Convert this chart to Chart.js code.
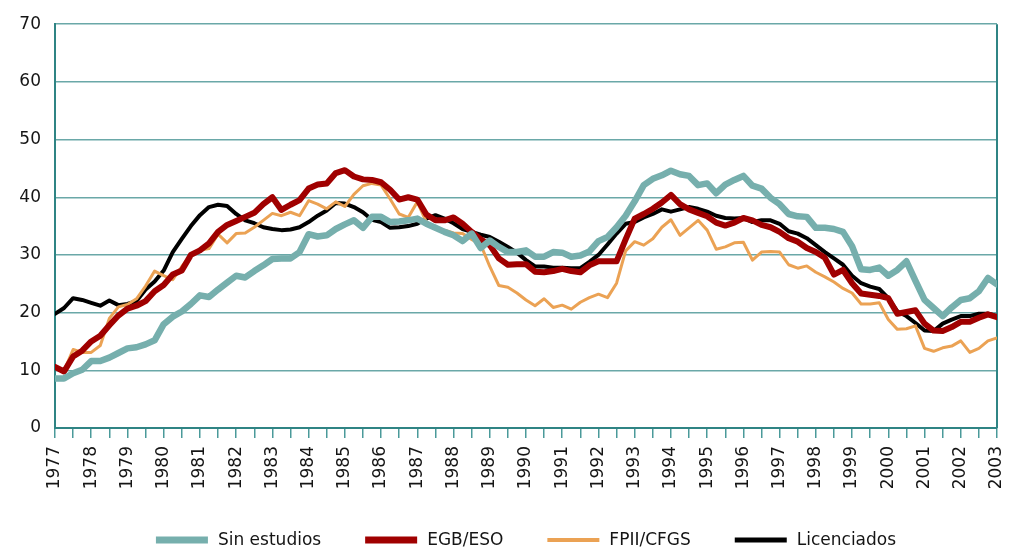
<!DOCTYPE html>
<html>
<head>
<meta charset="utf-8">
<script src="https://cdn.jsdelivr.net/npm/chart.js@4.4.0/dist/chart.umd.min.js"></script>
<style>
  html, body { margin: 0; padding: 0; background: #fff; }
</style>
</head>
<body>
<canvas id="myChart" width="1009" height="550"></canvas>
<script>
// quarterly series, first value = 1977 Q1, last = 2003 Q1
var firstYear = 1977;
var lastYear = 2003;
var seriesNames = ['Sin estudios', 'EGB/ESO', 'FPII/CFGS', 'Licenciados'];

var sinEstudios = [
  8.6, 8.6, 9.5, 10.1,      // 1977
  11.6, 11.6, 12.2, 13.0,   // 1978
  13.8, 14.0, 14.5, 15.2,   // 1979
  18.0, 19.3, 20.2, 21.5,   // 1980
  23.0, 22.7, 24.0, 25.2,   // 1981
  26.4, 26.1, 27.2, 28.2,   // 1982
  29.3, 29.4, 29.4, 30.5,   // 1983
  33.6, 33.2, 33.4, 34.5,   // 1984
  35.3, 36.0, 34.7, 36.6,   // 1985
  36.6, 35.7, 35.8, 36.0,   // 1986
  36.3, 35.4, 34.7, 34.0,   // 1987
  33.4, 32.4, 33.7, 31.2,   // 1988
  32.5, 31.4, 30.5, 30.5,   // 1989
  30.8, 29.7, 29.7, 30.5,   // 1990
  30.4, 29.7, 29.9, 30.6,   // 1991
  32.4, 33.1, 34.8, 36.8,   // 1992
  39.3, 42.1, 43.2, 43.8,   // 1993
  44.6, 44.0, 43.7, 42.1,   // 1994
  42.4, 40.7, 42.2, 43.0,   // 1995
  43.7, 42.0, 41.5, 39.9,   // 1996
  38.8, 37.1, 36.7, 36.6,   // 1997
  34.7, 34.7, 34.5, 34.0,   // 1998
  31.5, 27.5, 27.4, 27.8,   // 1999
  26.4, 27.4, 28.9, 25.5,   // 2000
  22.2, 20.8, 19.4, 20.9,   // 2001
  22.2, 22.5, 23.7, 26.0,   // 2002
  24.9                      // 2003
];

var egbEso = [
  10.6, 9.8, 12.4, 13.4,
  15.0, 16.0, 17.8, 19.5,
  20.7, 21.2, 22.0, 23.7,
  24.8, 26.6, 27.3, 30.0,
  30.8, 32.0, 34.0, 35.2,
  35.9, 36.6, 37.3, 38.8,
  40.0, 37.8, 38.7, 39.5,
  41.5, 42.2, 42.4, 44.2,
  44.7, 43.6, 43.1, 43.0,
  42.6, 41.3, 39.6, 40.0,
  39.6, 37.0, 36.0, 36.0,
  36.5, 35.4, 34.0, 32.7,
  31.7, 29.4, 28.3, 28.4,
  28.4, 27.1, 27.0, 27.2,
  27.6, 27.2, 27.0, 28.2,
  28.9, 28.9, 28.9, 32.7,
  36.3, 37.1, 38.0, 39.1,
  40.4, 38.8, 37.9, 37.3,
  36.7, 35.6, 35.1, 35.6,
  36.4, 36.0, 35.2, 34.8,
  34.0, 32.9, 32.3, 31.2,
  30.5, 29.5, 26.6, 27.4,
  25.1, 23.3, 23.1, 22.9,
  22.5, 19.8, 20.1, 20.4,
  18.1, 16.9, 16.8, 17.5,
  18.4, 18.4, 19.1, 19.7,
  19.2
];

var fpiiCfgs = [
  10.5, 9.9, 13.6, 13.1,
  13.1, 14.3, 19.0, 21.0,
  21.4, 22.4, 24.6, 27.2,
  26.4, 25.7, 28.0, 30.0,
  30.8, 31.1, 33.6, 32.1,
  33.7, 33.8, 34.8, 36.0,
  37.2, 36.8, 37.4, 36.8,
  39.4, 38.8, 38.0, 39.2,
  38.4, 40.5, 42.0, 42.4,
  42.1, 39.7, 37.1, 36.5,
  39.2, 35.7, 34.5, 34.3,
  33.8, 33.7, 32.7, 31.8,
  28.0, 24.7, 24.4, 23.4,
  22.2, 21.2, 22.4, 20.9,
  21.3, 20.6, 21.8, 22.6,
  23.2, 22.6, 25.1, 30.7,
  32.3, 31.7, 32.8, 34.8,
  36.1, 33.4, 34.7, 36.0,
  34.3, 31.0, 31.4, 32.1,
  32.2, 29.1, 30.5, 30.6,
  30.5, 28.3, 27.7, 28.1,
  27.0, 26.2, 25.3, 24.2,
  23.4, 21.5, 21.5, 21.7,
  18.8, 17.1, 17.2, 17.7,
  13.8, 13.3, 13.9, 14.2,
  15.1, 13.1, 13.8, 15.1,
  15.6
];

var licenciados = [
  19.8, 20.8, 22.5, 22.2,
  21.7, 21.2, 22.1, 21.3,
  21.5, 22.0, 24.0, 25.4,
  27.3, 30.5, 32.8, 35.0,
  36.9, 38.3, 38.7, 38.5,
  37.1, 36.0, 35.5, 34.8,
  34.5, 34.3, 34.4, 34.8,
  35.7, 36.8, 37.7, 39.0,
  38.9, 38.3, 37.4, 36.1,
  35.7, 34.7, 34.8, 35.0,
  35.4, 36.3, 36.9, 36.3,
  35.5, 34.5, 34.0, 33.5,
  33.1, 32.3, 31.4, 30.4,
  29.1, 28.0, 28.0, 27.8,
  27.8, 27.7, 27.7, 28.8,
  30.0, 31.8, 33.7, 35.4,
  35.7, 36.5, 37.1, 37.9,
  37.5, 37.9, 38.3, 38.0,
  37.5, 36.8, 36.4, 36.3,
  36.4, 35.7, 36.0, 36.0,
  35.4, 34.1, 33.7, 32.9,
  31.7, 30.5, 29.4, 28.3,
  26.4, 25.1, 24.5, 24.1,
  22.5, 20.2, 19.4, 18.2,
  16.9, 16.8, 18.1, 18.8,
  19.4, 19.4, 19.8, 19.8,
  19.4
];

var yTicks = [0, 10, 20, 30, 40, 50, 60, 70];

function toPoints(values) {
  return values.map(function (v, i) { return { x: firstYear + i / 4, y: v }; });
}

var axisColor = '#2f8484';
var gridColor = '#6aa8a8';
var textColor = '#151515';

Chart.defaults.font.family = "'DejaVu Sans', Verdana, sans-serif";
Chart.defaults.font.size = 17;
Chart.defaults.color = textColor;

// right edge of the plot frame
var frameRight = {
  id: 'frameRight',
  beforeDatasetsDraw: function (chart) {
    var a = chart.chartArea, ctx = chart.ctx;
    ctx.save();
    ctx.strokeStyle = axisColor;
    ctx.lineWidth = 2;
    ctx.beginPath();
    ctx.moveTo(a.right, a.top);
    ctx.lineTo(a.right, a.bottom);
    ctx.stroke();
    ctx.restore();
  }
};

// legend row under the axis labels
var bottomLegend = {
  id: 'bottomLegend',
  afterDraw: function (chart) {
    var ctx = chart.ctx, a = chart.chartArea;
    var sets = chart.data.datasets;
    var sample = 52, gap = 10, spacing = 44;
    ctx.save();
    ctx.font = "17px 'DejaVu Sans', Verdana, sans-serif";
    ctx.textBaseline = 'middle';
    var widths = sets.map(function (d) { return sample + gap + ctx.measureText(d.label).width; });
    var total = widths.reduce(function (s, w) { return s + w; }, 0) + spacing * (sets.length - 1);
    var x = (a.left + a.right) / 2 - total / 2;
    var y = 540;
    sets.forEach(function (d, i) {
      ctx.strokeStyle = d.borderColor;
      ctx.lineWidth = d.legendWidth;
      ctx.lineCap = 'butt';
      ctx.beginPath();
      ctx.moveTo(x, y);
      ctx.lineTo(x + sample, y);
      ctx.stroke();
      ctx.fillStyle = textColor;
      ctx.fillText(d.label, x + sample + gap, y + 1);
      x += widths[i] + spacing;
    });
    ctx.restore();
  }
};

var ctx = document.getElementById('myChart').getContext('2d');
var myChart = new Chart(ctx, {
  type: 'line',
  data: {
    datasets: [
      { label: seriesNames[0], data: toPoints(sinEstudios), borderColor: '#76afad', borderWidth: 6.5, legendWidth: 7 },
      { label: seriesNames[1], data: toPoints(egbEso), borderColor: '#a00000', borderWidth: 6, legendWidth: 7 },
      { label: seriesNames[2], data: toPoints(fpiiCfgs), borderColor: '#eba254', borderWidth: 3, legendWidth: 4 },
      { label: seriesNames[3], data: toPoints(licenciados), borderColor: '#000000', borderWidth: 4, legendWidth: 5 }
    ]
  },
  options: {
    responsive: false,
    animation: false,
    layout: { padding: { top: 20, right: 12, bottom: 60, left: 0 } },
    elements: {
      point: { radius: 0 },
      line: { tension: 0, borderJoinStyle: 'round', borderCapStyle: 'round', fill: false }
    },
    plugins: {
      legend: { display: false },
      tooltip: { enabled: false }
    },
    scales: {
      x: {
        type: 'linear',
        min: firstYear,
        max: lastYear,
        ticks: {
          stepSize: 0.5,
          autoSkip: false,
          minRotation: 90,
          maxRotation: 90,
          padding: 8,
          color: textColor,
          callback: function (v) { return Number.isInteger(v) ? String(v) : ''; }
        },
        grid: { drawOnChartArea: false, drawTicks: true, tickLength: 10, color: '#4a9a9a', lineWidth: 1.5 },
        border: { color: axisColor, width: 2 },
        afterFit: function (s) { s.height = 62; s.paddingLeft = 0; s.paddingRight = 0; }
      },
      y: {
        min: yTicks[0],
        max: yTicks[yTicks.length - 1],
        afterBuildTicks: function (s) { s.ticks = yTicks.map(function (v) { return { value: v }; }); },
        ticks: { padding: 14, color: textColor },
        grid: { color: gridColor, lineWidth: 1.5, drawTicks: false },
        border: { color: axisColor, width: 2 },
        afterFit: function (s) { s.width = 55; }
      }
    }
  },
  plugins: [frameRight, bottomLegend]
});
</script>
</body>
</html>
